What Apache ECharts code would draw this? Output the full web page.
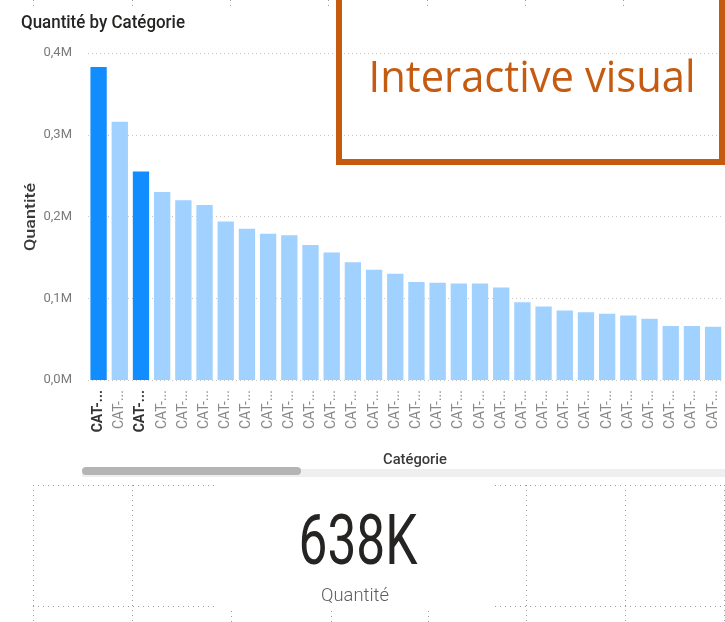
<!DOCTYPE html>
<html>
<head>
<meta charset="utf-8">
<script src="https://cdn.jsdelivr.net/npm/echarts@6/dist/echarts.min.js"></script>
<style>
  html, body { margin: 0; padding: 0; background: #ffffff; }
  #chart { width: 725px; height: 622px; }
</style>
</head>
<body>
<div id="chart"></div>
<script>
// Quantité per catégorie, sorted descending
const categories = [
  'CAT-01', 'CAT-02', 'CAT-03', 'CAT-04', 'CAT-05', 'CAT-06', 'CAT-07', 'CAT-08',
  'CAT-09', 'CAT-10', 'CAT-11', 'CAT-12', 'CAT-13', 'CAT-14', 'CAT-15', 'CAT-16',
  'CAT-17', 'CAT-18', 'CAT-19', 'CAT-20', 'CAT-21', 'CAT-22', 'CAT-23', 'CAT-24',
  'CAT-25', 'CAT-26', 'CAT-27', 'CAT-28', 'CAT-29', 'CAT-30'
];
const quantities = [
  383000, 316000, 255000, 230000, 220000, 214000, 194000, 185000,
  179000, 177000, 165000, 156000, 144000, 135000, 130000, 120000,
  119000, 118000, 118000, 113000, 95000, 90000, 85000, 83000,
  81000, 79000, 75000, 66000, 66000, 65000
];
// categories currently selected (highlighted) in the visual
const selectedIdx = [0, 2];
const yTicks = [0, 100000, 200000, 300000, 400000];

const BLUE = '#118DFF';
const BLUE_DIM = '#A0D1FF';
const ORANGE = '#C55A11';

// scale factor so that a string drawn in `font` spans `width` px
const measureCtx = document.createElement('canvas').getContext('2d');
function fitScale(text, font, width) {
  measureCtx.font = font;
  return width / measureCtx.measureText(text).width;
}

const selectedTotal = selectedIdx.reduce((s, i) => s + quantities[i], 0);
const cardText = Math.round(selectedTotal / 1000) + 'K';

function fitText(opts) {
  const font = `${opts.weight || 400} ${opts.size}px ${opts.family}`;
  return {
    type: 'text',
    x: opts.x, y: opts.y,
    rotation: opts.rotation || 0,
    scaleX: opts.width ? fitScale(opts.text, font, opts.width) : 1,
    z: opts.z || 10,
    silent: true,
    style: {
      text: opts.text,
      x: 0, y: 0,
      fill: opts.color,
      font: font,
      align: opts.align || 'center',
      verticalAlign: 'middle'
    }
  };
}

function dotted(x1, y1, x2, y2, z) {
  return {
    type: 'line', silent: true, z: z || 1,
    shape: { x1, y1, x2, y2 },
    style: { stroke: '#9a9a9a', lineWidth: 1, lineDash: [1, 4] }
  };
}

const canvasGridX = [33.5, 132.5, 230.5, 328.5, 427.5, 525.5, 623.5, 722.5];

const graphics = [];
// page canvas grid marks at the top edge
canvasGridX.forEach(x => graphics.push(dotted(x, 0, x, 8)));
// frames of the neighbouring empty placeholders
[485.5, 606.5].forEach(y => {
  graphics.push(dotted(33, y, 218, y));
  graphics.push(dotted(490, y, 725, y));
});
[33.5, 132.5, 526.5, 625.5, 724.5].forEach(x => graphics.push(dotted(x, 485, x, 622)));
[231.5, 331.5, 428.5].forEach(x => graphics.push(dotted(x, 611, x, 622)));

// card background
graphics.push({
  type: 'rect', silent: true, z: 3,
  shape: { x: 218, y: 478, width: 273, height: 132 },
  style: { fill: '#ffffff' }
});

// horizontal scrollbar of the bar chart
graphics.push({
  type: 'rect', silent: true, z: 4,
  shape: { x: 82, y: 469, width: 643, height: 8 },
  style: { fill: '#efefef' }
});
graphics.push({
  type: 'rect', silent: true, z: 5,
  shape: { x: 82, y: 467, width: 219, height: 8, r: 4 },
  style: { fill: '#b4b4b4' }
});

// chart title and axis titles
graphics.push(fitText({ text: 'Quantité by Catégorie', x: 21, y: 23, size: 18, weight: 500,
  family: 'Roboto', color: '#252423', align: 'left', width: 164 }));
graphics.push(fitText({ text: 'Quantité', x: 31, y: 217, size: 15, weight: 500,
  family: 'Roboto', color: '#3a3a3a', rotation: Math.PI / 2, width: 68 }));
graphics.push(fitText({ text: 'Catégorie', x: 415, y: 460, size: 14, weight: 500,
  family: 'Roboto', color: '#3a3a3a', width: 64 }));

// callout box
graphics.push({
  type: 'rect', silent: true, z: 20,
  shape: { x: 339, y: -10, width: 383, height: 172 },
  style: { fill: 'transparent', stroke: ORANGE, lineWidth: 6 }
});
graphics.push(fitText({ text: 'Interactive visual', x: 532, y: 79, size: 44, weight: 400,
  family: 'Open Sans', color: ORANGE, width: 327, z: 21 }));

// card value and caption
graphics.push(fitText({ text: cardText, x: 358, y: 546, size: 70, weight: 400,
  family: 'Roboto', color: '#252423', width: 119, z: 6 }));
graphics.push(fitText({ text: 'Quantité', x: 355, y: 596, size: 18, weight: 300,
  family: 'Roboto', color: '#605E5C', width: 68, z: 6 }));

const chart = echarts.init(document.getElementById('chart'), null, { renderer: 'canvas' });

chart.setOption({
  backgroundColor: '#ffffff',
  animation: false,
  grid: {
    left: 88, right: 1.3, top: 53, bottom: 242,
    containLabel: false, outerBoundsMode: 'none'
  },
  xAxis: {
    type: 'category',
    data: categories,
    axisLine: { show: false },
    axisTick: { show: false },
    axisLabel: {
      interval: 0,
      rotate: 90,
      margin: 10,
      formatter: (value, index) => {
        const t = value.slice(0, 4) + '...';
        return selectedIdx.includes(index) ? '{b|' + t + '}' : '{n|' + t + '}';
      },
      rich: {
        b: { fontFamily: 'Roboto', fontSize: 14, fontWeight: 700, color: '#333333' },
        n: { fontFamily: 'Roboto', fontSize: 14, fontWeight: 400, color: '#8a8a8a' }
      }
    }
  },
  yAxis: {
    type: 'value',
    min: yTicks[0],
    max: yTicks[yTicks.length - 1],
    interval: yTicks[1] - yTicks[0],
    axisLine: { show: false },
    axisTick: { show: false },
    axisLabel: {
      margin: 16,
      fontFamily: 'Roboto',
      fontSize: 13,
      color: '#7a7a7a',
      formatter: v => (v / 1e6).toFixed(1).replace('.', ',') + 'M'
    },
    splitLine: {
      show: true,
      lineStyle: { color: '#c8c8c8', type: [1, 3], width: 1 }
    }
  },
  series: [{
    type: 'bar',
    barCategoryGap: '23%',
    data: quantities.map((v, i) => ({
      value: v,
      itemStyle: { color: selectedIdx.includes(i) ? BLUE : BLUE_DIM }
    })),
    z: 2
  }],
  graphic: { elements: graphics }
});
</script>
</body>
</html>
